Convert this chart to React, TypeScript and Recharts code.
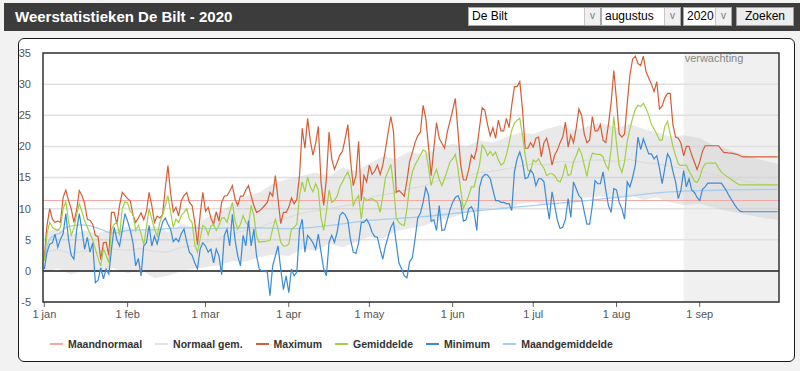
import React from 'react';
import {
  ComposedChart,
  Line,
  Area,
  XAxis,
  YAxis,
  CartesianGrid,
  ReferenceLine,
  ReferenceArea,
} from 'recharts';

// daily values, day 0 = 1 jan 2020 (leap year), last day = 30 sep
const maxTemp = [
  // jan
  2, 7.3, 10, 8.3, 7.8, 8, 7.8, 11.8, 13, 11.3, 10, 7.8, 9.7, 12.9, 12.1, 10.8, 8.3, 8.1, 7.5, 5.7, 5.5, 1.8, 4.5, 4.6, 2.5, 9.4, 9.4, 7.5, 10.5, 12.6, 12.1,
  // feb
  11.6, 11.2, 9, 7.8, 8.5, 9.3, 8.2, 9.5, 12.6, 10.5, 7.8, 8.8, 8.5, 9, 13.2, 16.9, 12.5, 9.5, 10.2, 8.8, 11.3, 12.1, 12.6, 11, 10.5, 7.8, 4.2, 9, 12.6,
  // mar
  9.6, 10.2, 8.5, 7.5, 9.5, 8, 11, 12, 12.1, 12.8, 13.7, 11.5, 10.5, 12, 12, 13, 13.7, 12, 10.5, 9.4, 9.6, 10, 10.5, 11, 12.6, 12, 15.3, 11.5, 7.6, 9.4, 9.4,
  // apr
  10.2, 11.7, 10.8, 11.5, 15.3, 22.9, 19.7, 24.5, 21, 18.6, 20.5, 23.2, 14.3, 10.5, 14.8, 22.3, 18, 16.3, 17.4, 18.6, 19.2, 21.3, 23.5, 17.7, 13.7, 15.3, 20.8, 11.3, 15.3, 14.3,
  // may
  17, 15.5, 16, 17, 15.5, 17, 19.5, 22.3, 24.8, 22.3, 12.6, 12.9, 12.5, 12, 14.5, 17.6, 19, 20.6, 21.7, 22.3, 26.6, 24.5, 20, 15.3, 19.7, 23.8, 21.3, 20.5, 19.7, 22.3, 24,
  // jun
  25.8, 27.7, 22.3, 17, 14.6, 14.6, 16.3, 18.6, 18, 19.7, 23, 26.2, 25.8, 23.5, 21.7, 23, 21.3, 24.2, 22.5, 22.5, 24.5, 23, 26.6, 29.6, 29.6, 30.4, 26, 19.7, 19.7, 20.6,
  // jul
  19.9, 21.3, 21.5, 18.3, 20.6, 21.3, 19.5, 17, 18.6, 19.4, 20.6, 21.5, 23.9, 19.9, 21.8, 20.6, 22.9, 26, 25, 22, 20.6, 21, 24.8, 22.5, 22.5, 23.5, 21, 20.6, 23.5, 27, 32.2,
  // aug
  27.5, 22, 21.5, 22, 26.9, 31.5, 34, 34.5, 33.3, 33, 34.5, 32, 31, 30, 28.8, 30.4, 26, 26.5, 27.8, 28.5, 28.5, 23.5, 21.5, 21.3, 20.5, 18.5, 20, 20, 18.6, 17.5, 16.3,
  // sep
  17.5, 19.2, 20.1, 20.1, 20.1, 20.1, 20.1, 20.1, 19.5, 19, 19, 18.9, 18.9, 18.8, 18.7, 18.5, 18.3, 18.3, 18.3, 18.3, 18.3, 18.3, 18.3, 18.3, 18.3, 18.3, 18.3, 18.3, 18.3, 18.3,
];

const meanTemp = [
  // jan
  1.6, 6, 7.8, 7, 6.7, 6.5, 7, 10, 11.1, 8, 5.7, 6.8, 9, 10.8, 9.5, 8, 7, 6, 5, 3.5, 2, 0.8, 3.5, 2.5, 1.3, 6.7, 7.5, 7.8, 5.7, 10, 11.1,
  // feb
  10.9, 9.5, 9.2, 6.5, 7.3, 6, 4.2, 7, 10, 8.3, 6.7, 5.6, 7.8, 8.9, 10.5, 12.1, 9.5, 7, 8.3, 7.8, 8.9, 9.4, 10, 8.3, 7.8, 4.2, 3, 5.1, 7.3,
  // mar
  7, 5.8, 7.2, 7.5, 6.5, 7.3, 8.5, 8.5, 7.8, 9.4, 11, 8, 6.7, 7.5, 8.9, 7.8, 7.3, 10.5, 8.9, 5.6, 4.6, 4.7, 4.7, 4.8, 4.9, 6.7, 8.3, 6.7, 4.6, 4, 4,
  // apr
  4.3, 6.7, 7, 7.5, 12.1, 14.3, 12.7, 15.1, 13.5, 12.7, 14, 13, 8.5, 6.5, 9.5, 13, 11, 11.3, 12, 13.5, 14.3, 15.2, 15.9, 14.5, 10.5, 11.5, 12.1, 8.3, 11.8, 11.3,
  // may
  11.5, 11.6, 11.3, 11, 9.4, 12, 15, 16, 17.1, 13.7, 8.5, 7.8, 7.4, 7.3, 10, 13.7, 15.9, 17, 17.8, 18.6, 19.4, 19.2, 16.7, 13.7, 15.3, 16.3, 14.7, 13.7, 14.8, 16.1, 17.5,
  // jun
  18, 18.7, 16.4, 13, 10, 11, 12.1, 13.5, 13.5, 15.3, 17, 20.2, 19.6, 18.5, 19.2, 18.5, 19.1, 17.8, 17, 17.3, 18.6, 20.5, 22.6, 23.7, 24.2, 24.5, 21.8, 18.6, 16.2, 16,
  // jul
  17.8, 17.5, 18, 17.1, 16.5, 15.3, 15.6, 15.6, 15.3, 14.5, 14.3, 15.3, 17.2, 15.3, 15.5, 17.5, 18.5, 19.7, 18.8, 17, 15.2, 17.5, 18.9, 18.8, 18.7, 18.7, 18.3, 17, 16.3, 19.5, 24.8,
  // aug
  20.5, 16.9, 15.8, 17.5, 20.8, 22.8, 24.5, 26, 26.6, 26.4, 26.9, 26.1, 25, 23.5, 22.8, 22, 21, 21, 23.2, 24, 22, 20, 18.5, 17.2, 16.9, 17, 17, 16, 15.3, 14.4, 14.2,
  // sep
  15, 16.5, 17.2, 17.3, 17.3, 17.3, 17.3, 16.5, 15.9, 15.5, 15.2, 14.9, 14.6, 14.3, 14, 13.8, 13.8, 13.8, 13.8, 13.8, 13.8, 13.8, 13.8, 13.8, 13.8, 13.8, 13.8, 13.8, 13.8, 13.8,
];

const minTemp = [
  // jan
  0.3, 3, 4.3, 4.5, 5.9, 3.8, 5.1, 6, 9.2, 5, 2.5, 1.9, 6.5, 9.2, 6.5, 3.5, 5.4, 3, 4.5, -1.9, -1.5, 0.5, -1.3, 0.3, -0.5, 3.5, 7, 5, 4, 6.5, 9.2,
  // feb
  8, 6.5, 4.5, 0.8, 2, -0.8, 4, 4.5, 7.3, 4, 5.6, 4.3, 6.2, 7.8, 8.5, 7.5, 6.7, 4.7, 5.2, 4.7, 6, 6.7, 4.7, 3, 2.5, 1.3, 0.3, 3.5, 4.5,
  // mar
  4, 3, 3.5, 1.3, 3.5, 2.4, -0.6, 5.7, 6.7, 4, 9.1, 5, 2.4, 0.8, 5.7, 4, 8.1, 4, 6.7, 2.4, 0.3, 0, 0, -0.2, -4, 0.8, 2.4, 4, 0.3, -3, -0.8,
  // apr
  -3.5, 0.3, -0.8, -0.2, 6.7, 8.3, 3, 5.7, 5.2, 4.5, 3.5, 5.9, 3, 0.3, -0.8, 4.6, 5.7, 4.6, 6.2, 8.9, 9.4, 9, 8.1, 5, 3, 2.8, 4.5, 7.8, 7.8, 8.3,
  // may
  7.5, 6.2, 5.5, 5.4, 3.5, 1.9, 4, 5.5, 7, 7.8, 4.5, 1.3, 0.3, -0.8, -1.1, 1.5, 2.1, 5.1, 8.5, 9.3, 11, 13.4, 12.2, 8, 8.2, 6.5, 10.5, 6.5, 6.6, 8.2, 9.8,
  // jun
  11, 11.8, 12.1, 11, 8, 8.2, 10, 10.3, 9.4, 6.5, 13.4, 15, 15.5, 15.4, 14.8, 13, 11.3, 11.3, 11, 11, 10.8, 10.8, 9.7, 15.9, 18, 19.1, 17.5, 14.8, 15, 16.2,
  // jul
  15.6, 13.7, 14.8, 14.8, 14.3, 11, 8.3, 12.7, 10.5, 8.1, 6.8, 7, 8.3, 11.6, 8.6, 14.3, 13.2, 12.1, 11.6, 9.5, 7.5, 7.5, 10.5, 14.5, 14, 14, 15.9, 13, 10.5, 9.4, 13.2,
  // aug
  13, 11, 10, 8.3, 14.3, 13.5, 15, 17, 21.5, 19.5, 21.2, 20, 18.8, 18.8, 18, 18.5, 16.5, 14, 16.5, 18.8, 18, 16, 14.3, 11.6, 13, 16.1, 13.5, 14.8, 13, 12.6, 11.8,
  // sep
  11.3, 13.1, 13.5, 14.1, 14.1, 14.1, 14.1, 14.1, 14.1, 13.5, 12.8, 12, 11.3, 10.6, 10, 9.6, 9.5, 9.5, 9.5, 9.5, 9.5, 9.5, 9.5, 9.5, 9.5, 9.5, 9.5, 9.5, 9.5, 9.5,
];

// long-term normals (band = normal min .. normal max), read every ~5 days
const normDays = [0, 5, 10, 15, 20, 25, 31, 36, 41, 46, 51, 56, 60, 65, 70, 75, 80, 85, 91, 96, 101, 106, 111, 116, 121, 126, 131, 136, 141, 146, 152, 157, 162, 167, 172, 177, 182, 187, 192, 197, 202, 207, 213, 218, 223, 228, 233, 238, 244, 249, 254, 259, 264, 269, 273];
const normHigh = [6.2, 6.8, 5.8, 6.5, 6, 6.6, 7, 6.4, 7.3, 6.2, 7.5, 7, 8.5, 9.3, 10.8, 12, 12.6, 14, 14.8, 15.3, 15.8, 15.2, 16.6, 16, 17.2, 18.4, 18, 19.2, 18.6, 19.8, 20.4, 20, 21, 20.6, 21.5, 22.2, 22, 22.8, 23.4, 22.6, 23.2, 23.8, 23, 23.6, 22.8, 22.2, 21.6, 21.8, 21.3, 20.2, 19.6, 18.8, 18.2, 17.6, 17.2];
const normLow = [-0.3, 0.4, -0.6, 0.2, -0.2, 0.5, -0.4, 0.2, -1.2, -0.8, 0, 0.4, 0.6, 0.9, 1.6, 1.5, 2.2, 2.6, 2.4, 3.5, 3.2, 4.4, 3.8, 4.6, 5.5, 5.2, 6.4, 6.8, 7.2, 8, 8.6, 9.4, 9.6, 10.2, 9.8, 10.8, 11, 10.6, 11.4, 11.2, 11.8, 12, 11.6, 12.2, 11.4, 11.8, 11, 10.6, 10.8, 10.2, 9.6, 9.2, 8.8, 8.4, 8.2];
const normMean = [3, 3.4, 2.8, 3.2, 2.9, 3.5, 3.3, 3.6, 3.1, 3, 3.8, 4, 4.6, 5.2, 6, 6.5, 7, 7.8, 8.6, 9.3, 9.6, 10, 10.4, 10.8, 11.8, 12.2, 12.6, 13.2, 13.6, 14.4, 15, 15.2, 15.8, 16, 16.4, 16.8, 17.2, 17, 17.6, 17.4, 17.8, 17.8, 17.6, 17.9, 17.4, 17.2, 16.8, 16.4, 16, 15.5, 15, 14.6, 14.2, 13.8, 13.5];

// maandgemiddelde (running average)
const avgDays = [0, 1, 2, 4, 6, 8, 10, 13, 16, 19, 22, 25, 28, 31, 36, 41, 46, 51, 56, 60, 70, 80, 91, 100, 110, 121, 131, 141, 152, 162, 172, 182, 192, 202, 213, 223, 233, 238, 244, 254, 273];
const avgValues = [1.6, 3.8, 5.1, 5.8, 6.1, 7, 7.2, 7.4, 7.3, 7, 6.5, 6.1, 6.2, 6.5, 6.6, 6.6, 6.8, 6.9, 6.9, 6.8, 6.9, 6.9, 6.8, 7, 7.5, 8.1, 8.4, 8.7, 9.2, 9.7, 10.1, 10.5, 10.9, 11.3, 11.8, 12.3, 12.7, 12.8, 12.9, 13, 13.1];

const maandNormaal = 11.3;
const forecastStart = 238;
const lastDay = 273;

const monthTicks = [0, 31, 60, 91, 121, 152, 182, 213, 244];
const monthLabels = ['1 jan', '1 feb', '1 mar', '1 apr', '1 may', '1 jun', '1 jul', '1 aug', '1 sep'];
const yTicks = [-5, 0, 5, 10, 15, 20, 25, 30, 35];

const legendItems = [
  { name: 'Maandnormaal', color: '#f4a8a2' },
  { name: 'Normaal gem.', color: '#e2e2e2' },
  { name: 'Maximum', color: '#d65c34' },
  { name: 'Gemiddelde', color: '#a2cf45' },
  { name: 'Minimum', color: '#3b8ad6' },
  { name: 'Maandgemiddelde', color: '#a6cdf2' },
];

const daily = maxTemp.map((v, i) => ({ day: i, max: v, mean: meanTemp[i], min: minTemp[i] }));
const normals = normDays.map((d, i) => ({ day: d, band: [normLow[i], normHigh[i]], gem: normMean[i] }));
const runningAvg = avgDays.map((d, i) => ({ day: d, avg: avgValues[i] }));

const font = '"Liberation Sans", Arial, sans-serif';

function Select({ left, width, text }: { left: number; width: number; text: string }) {
  return (
    <div
      style={{
        position: 'absolute',
        left,
        top: 4,
        width,
        height: 19,
        boxSizing: 'border-box',
        background: '#fff',
        border: '1px solid #a9a9a9',
        fontSize: 12,
        lineHeight: '17px',
        paddingLeft: 3,
        color: '#000',
      }}
    >
      {text}
      <div
        style={{
          position: 'absolute',
          right: 0,
          top: 0,
          width: 15,
          height: 17,
          borderLeft: '1px solid #c8c8c8',
          background: '#f0f0f0',
          color: '#777',
          fontSize: 10,
          textAlign: 'center',
          lineHeight: '16px',
        }}
      >
        v
      </div>
    </div>
  );
}

export default function App() {
  return (
    <div
      style={{
        position: 'relative',
        width: 800,
        height: 371,
        background: '#f2f2f2',
        overflow: 'hidden',
        fontFamily: font,
      }}
    >
      <style>{'body{margin:0;}'}</style>
      <div style={{ position: 'absolute', left: 4, top: 3, width: 796, height: 28, background: '#3c3c3c' }}>
        <div
          style={{
            position: 'absolute',
            left: 11,
            top: 5,
            color: '#fff',
            fontWeight: 'bold',
            fontSize: 15,
            lineHeight: '17px',
          }}
        >
          Weerstatistieken De Bilt - 2020
        </div>
        <Select left={464} width={133} text="De Bilt" />
        <Select left={597} width={80} text="augustus" />
        <Select left={679} width={49} text="2020" />
        <div
          style={{
            position: 'absolute',
            left: 732,
            top: 4,
            width: 58,
            height: 19,
            boxSizing: 'border-box',
            background: '#ececec',
            border: '1px solid #a0a0a0',
            fontSize: 12,
            lineHeight: '17px',
            textAlign: 'center',
            color: '#000',
          }}
        >
          Zoeken
        </div>
      </div>

      <div
        style={{
          position: 'absolute',
          left: 18,
          top: 38,
          width: 777,
          height: 324,
          boxSizing: 'border-box',
          background: '#fff',
          border: '1.5px solid #1a1a1a',
          borderRadius: 6,
        }}
      />

      <div style={{ position: 'absolute', left: 0, top: 0 }}>
        <ComposedChart
          width={800}
          height={371}
          data={daily}
          margin={{ top: 53, right: 21, bottom: 39, left: 13 }}
        >
          <ReferenceArea
            x1={forecastStart}
            x2={lastDay + 0.5}
            y1={-5}
            y2={35}
            fill="#f0f0f0"
            fillOpacity={1}
            stroke="none"
            zIndex={-200}
            label={{ value: 'verwachting', position: 'insideTopLeft', offset: 1, fill: '#888', fontSize: 11 }}
          />
          <CartesianGrid vertical={false} stroke="#e0e0e0" strokeWidth={1.5} />
          <XAxis
            type="number"
            dataKey="day"
            domain={[-0.5, lastDay + 0.5]}
            allowDataOverflow
            ticks={monthTicks}
            interval={0}
            tickFormatter={(v: number) => monthLabels[monthTicks.indexOf(v)]}
            axisLine={false}
            tickLine={{ stroke: '#666' }}
            tickSize={5}
            tickMargin={3}
            tick={{ fill: '#555', fontSize: 11 }}
            height={30}
          />
          <YAxis
            type="number"
            domain={[-5, 35]}
            ticks={yTicks}
            interval={0}
            axisLine={false}
            tickLine={false}
            tickSize={6}
            tickMargin={6}
            tick={{ fill: '#555', fontSize: 11 }}
            width={30}
          />
          <Area
            data={normals}
            dataKey="band"
            type="linear"
            stroke="none"
            fill="#c8c8c8"
            fillOpacity={0.4}
            isAnimationActive={false}
          />
          <ReferenceLine y={0} stroke="#222" strokeWidth={1.5} />
          <ReferenceLine y={maandNormaal} stroke="#f4a8a2" strokeWidth={1} />
          <Line
            data={normals}
            dataKey="gem"
            type="linear"
            stroke="#dadada"
            strokeWidth={1}
            dot={false}
            isAnimationActive={false}
          />
          <Line
            data={runningAvg}
            dataKey="avg"
            type="monotone"
            stroke="#a6cdf2"
            strokeWidth={1.3}
            dot={false}
            isAnimationActive={false}
          />
          <Line dataKey="max" type="linear" stroke="#d65c34" strokeWidth={1.2} dot={false} isAnimationActive={false} />
          <Line dataKey="mean" type="linear" stroke="#a2cf45" strokeWidth={1.2} dot={false} isAnimationActive={false} />
          <Line dataKey="min" type="linear" stroke="#3b8ad6" strokeWidth={1.2} dot={false} isAnimationActive={false} />
          <ReferenceArea
            x1={-0.5}
            x2={lastDay + 0.5}
            y1={-5}
            y2={35}
            fill="none"
            stroke="#333"
            strokeWidth={1.5}
            zIndex={900}
          />
        </ComposedChart>
      </div>

      <div
        style={{
          position: 'absolute',
          left: 50,
          top: 337,
          display: 'flex',
          alignItems: 'center',
          height: 14,
        }}
      >
        {legendItems.map((it) => (
          <div key={it.name} style={{ display: 'flex', alignItems: 'center', marginRight: 13 }}>
            <div style={{ width: 13, height: 2, background: it.color, marginRight: 5 }} />
            <span style={{ fontSize: 10.5, fontWeight: 'bold', color: '#333' }}>{it.name}</span>
          </div>
        ))}
      </div>
    </div>
  );
}
